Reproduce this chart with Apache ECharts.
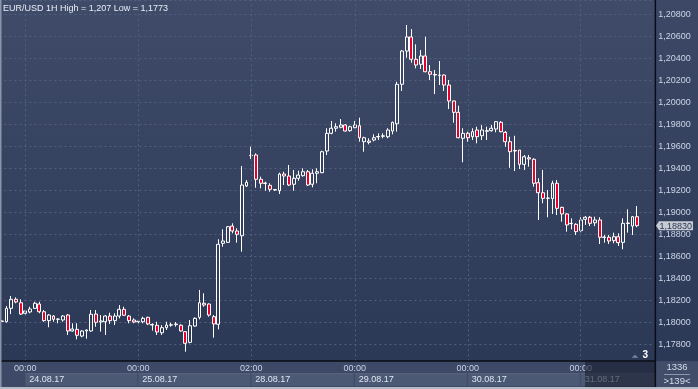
<!DOCTYPE html>
<html><head><meta charset="utf-8">
<script src="https://cdn.jsdelivr.net/npm/echarts@6/dist/echarts.min.js"></script>
<style>html,body{margin:0;padding:0;background:#323e5b;}#c{width:698px;height:389px;}</style>
</head><body><div id="c"></div>
<script>
// ---- data ----
const dayRanges = [['23.08.17',19,23],['24.08.17',0,23],['25.08.17',0,23],['28.08.17',2,23],['29.08.17',0,23],['30.08.17',0,23],['31.08.17',0,15]];
const categories = [];
dayRanges.forEach(([d,a,b]) => { for (let h=a; h<=b; h++) categories.push(d + ' ' + String(h).padStart(2,'0') + ':00'); });

const opens = [
1.18012,1.18005,1.18127,1.18209,1.18178,1.18082,1.18094,1.18127,1.18166,1.18096,
1.18015,1.18057,1.18027,1.18021,1.18066,1.17921,1.17936,1.17875,1.17921,1.17921,
1.18075,1.18003,1.18005,1.18057,1.18015,1.18057,1.18118,1.18057,1.18021,1.18005,
1.18005,1.18045,1.17975,1.17973,1.17905,1.17951,1.17974,1.17979,1.17973,1.17915,
1.17818,1.17966,1.18045,1.18173,1.18166,1.18051,1.17982,1.18718,1.18727,1.18875,
1.18830,1.18787,1.19239,1.19518,1.19521,1.19300,1.19266,1.19245,1.19207,1.19196,
1.19348,1.19330,1.19255,1.19309,1.19333,1.19369,1.19255,1.19355,1.19360,1.19557,
1.19718,1.19764,1.19773,1.19794,1.19742,1.19769,1.19787,1.19642,1.19636,1.19657,
1.19685,1.19691,1.19687,1.19739,1.19805,1.20164,1.20466,1.20594,1.20391,1.20345,
1.20421,1.20278,1.20253,1.20245,1.20248,1.20157,1.20012,1.19909,1.19673,1.19718,
1.19687,1.19748,1.19696,1.19736,1.19742,1.19757,1.19818,1.19727,1.19642,1.19562,
1.19566,1.19436,1.19496,1.19482,1.19269,1.19178,1.19130,1.19124,1.19264,1.19045,
1.18985,1.18900,1.18891,1.18833,1.18936,1.18955,1.18905,1.18930,1.18775,1.18773,
1.18742,1.18778,1.18727,1.18898,1.18875,1.18960];
const closes = [
1.18007,1.18127,1.18209,1.18185,1.18075,1.18103,1.18121,1.18173,1.18096,1.18015,
1.18066,1.18027,1.18030,1.18057,1.17921,1.17939,1.17882,1.17921,1.17930,1.18073,
1.18000,1.18012,1.18057,1.18015,1.18057,1.18118,1.18064,1.18015,1.18003,1.18010,
1.18036,1.17985,1.17980,1.17912,1.17951,1.17975,1.17977,1.17984,1.17921,1.17809,
1.17969,1.18036,1.18178,1.18157,1.18066,1.17985,1.18709,1.18739,1.18869,1.18830,
1.18800,1.19248,1.19273,1.19515,1.19300,1.19264,1.19262,1.19209,1.19203,1.19348,
1.19330,1.19248,1.19309,1.19339,1.19369,1.19248,1.19355,1.19369,1.19551,1.19718,
1.19764,1.19778,1.19794,1.19739,1.19778,1.19794,1.19678,1.19678,1.19648,1.19678,
1.19689,1.19696,1.19748,1.19818,1.20164,1.20466,1.20594,1.20391,1.20339,1.20421,
1.20278,1.20255,1.20248,1.20248,1.20157,1.20012,1.19909,1.19678,1.19718,1.19678,
1.19733,1.19687,1.19748,1.19742,1.19764,1.19824,1.19733,1.19642,1.19551,1.19557,
1.19436,1.19505,1.19485,1.19264,1.19178,1.19127,1.19127,1.19264,1.19036,1.18985,
1.18885,1.18897,1.18824,1.18930,1.18955,1.18900,1.18930,1.18773,1.18771,1.18739,
1.18778,1.18724,1.18900,1.18903,1.18960,1.18878];
const lows = [
1.18003,1.17998,1.18075,1.18173,1.18066,1.18066,1.18082,1.18121,1.18082,1.18005,
1.17955,1.18005,1.17991,1.18005,1.17885,1.17915,1.17845,1.17864,1.17851,1.17915,
1.17960,1.17915,1.17885,1.17985,1.17975,1.18036,1.18057,1.17991,1.17991,1.17991,
1.17991,1.17975,1.17924,1.17885,1.17885,1.17930,1.17960,1.17960,1.17915,1.17733,
1.17809,1.17960,1.18027,1.18142,1.18051,1.17860,1.17936,1.18687,1.18721,1.18809,
1.18724,1.18642,1.19230,1.19485,1.19224,1.19218,1.19196,1.19187,1.19194,1.19166,
1.19248,1.19239,1.19196,1.19287,1.19324,1.19239,1.19227,1.19264,1.19355,1.19521,
1.19709,1.19733,1.19764,1.19733,1.19733,1.19764,1.19642,1.19551,1.19618,1.19645,
1.19657,1.19673,1.19673,1.19709,1.19733,1.20103,1.20405,1.20360,1.20309,1.20303,
1.20273,1.20203,1.20075,1.20157,1.20103,1.19939,1.19815,1.19673,1.19455,1.19642,
1.19657,1.19627,1.19657,1.19657,1.19733,1.19727,1.19727,1.19596,1.19405,1.19375,
1.19394,1.19385,1.19415,1.19233,1.18930,1.19082,1.18955,1.18985,1.18975,1.18915,
1.18824,1.18845,1.18794,1.18818,1.18885,1.18875,1.18875,1.18712,1.18724,1.18712,
1.18718,1.18694,1.18664,1.18815,1.18794,1.18864];
const highs = [
1.18021,1.18148,1.18239,1.18227,1.18209,1.18112,1.18142,1.18187,1.18187,1.18112,
1.18075,1.18066,1.18036,1.18066,1.18075,1.17991,1.17991,1.17930,1.17935,1.18112,
1.18112,1.18066,1.18066,1.18087,1.18082,1.18157,1.18142,1.18066,1.18036,1.18016,
1.18051,1.18051,1.17991,1.18005,1.17975,1.18005,1.17996,1.18003,1.17982,1.17921,
1.18021,1.18045,1.18294,1.18264,1.18173,1.18066,1.18755,1.18845,1.18875,1.18900,
1.18855,1.19421,1.19294,1.19596,1.19536,1.19324,1.19278,1.19264,1.19212,1.19360,
1.19369,1.19430,1.19385,1.19378,1.19400,1.19385,1.19391,1.19400,1.19560,1.19764,
1.19830,1.19809,1.19848,1.19800,1.19787,1.19830,1.19860,1.19687,1.19673,1.19709,
1.19718,1.19718,1.19764,1.19824,1.20187,1.20475,1.20703,1.20666,1.20527,1.20475,
1.20596,1.20339,1.20294,1.20375,1.20253,1.20203,1.20016,1.19969,1.19764,1.19733,
1.19764,1.19778,1.19794,1.19778,1.19794,1.19830,1.19830,1.19739,1.19687,1.19696,
1.19566,1.19521,1.19521,1.19491,1.19309,1.19385,1.19203,1.19287,1.19294,1.19051,
1.18991,1.18945,1.18900,1.18955,1.18966,1.18966,1.18960,1.18955,1.18794,1.18794,
1.18815,1.18809,1.18945,1.19027,1.18966,1.19057];

const titleText = 'EUR/USD 1H High = 1,207 Low = 1,1773';
const currentPrice = 1.18830;
const barsText = '1336';
const visibleText = '>139<';
const markerCount = '3';
const yMin = 1.176, yMax = 1.2093, yStep = 0.002;

// first bar of each day (except the partial first day) gets a tick label
const labelIdx = [];
categories.forEach((c,i) => { if (i>0 && c.split(' ')[0] !== categories[i-1].split(' ')[0]) labelIdx.push(i); });

const FONT = '"Liberation Sans", Arial, sans-serif';
const GRID = '#53607c';
const candleData = opens.map((o,i) => [o, closes[i], lows[i], highs[i]]);

const chart = echarts.init(document.getElementById('c'), null, {renderer:'canvas', width:698, height:389});
const option = {
  animation: false,
  backgroundColor: 'transparent',
  grid: {left: -0.6, right: 44.3, top: 0, bottom: 22.7, containLabel: false, outerBoundsMode: 'none'},
  xAxis: [{
    type: 'category', data: categories, boundaryGap: true, z: 150,
    axisLine: {show:false}, axisTick: {show:false}, splitLine: {show:false},
    axisLabel: {interval: (i) => labelIdx.includes(i), formatter: v => v.split(' ')[1],
      margin: 2, verticalAlign: 'middle', color: '#c9d3e6', fontSize: 9, fontFamily: FONT, hideOverlap: false}
  }],
  yAxis: {
    type: 'value', position: 'right', min: yMin, max: yMax, interval: yStep, scale: true,
    axisLine: {show:false}, axisTick: {show:false},
    splitLine: {show: true, lineStyle: {color: GRID, type: [2,3], width: 1}},
    axisLabel: {margin: 4.5, color: '#cdd5e6', fontSize: 9, fontFamily: FONT,
      formatter: v => (v < 1.1775 || v > 1.2085) ? '' : v.toFixed(5).replace('.', ',')}
  },
  series: [
    {type: 'line', data: [], z: 1, silent: true,
      markLine: {silent: true, symbol: ['none','none'], label: {show:false}, animation: false,
        lineStyle: {color: GRID, type: [2,3], width: 1},
        data: labelIdx.map(i => ({xAxis: categories[i]}))}},
    {type: 'candlestick', data: candleData, barWidth: 3.4, z: 3,
      itemStyle: {color: 'rgba(0,0,0,0)', color0: '#e8002c', borderColor: '#ffffff', borderColor0: '#ffffff', borderWidth: 1}}
  ]
};
chart.setOption(option);

// ---- decorations positioned through the axes ----
const px = i => chart.convertToPixel({xAxisIndex: 0}, categories[i]);
const py = v => chart.convertToPixel({yAxisIndex: 0}, v);
const g = [];
g.push({type:'rect', z:-100, shape:{x:0,y:0,width:655,height:361},
  style:{fill: new echarts.graphic.LinearGradient(0,0,0,1,[{offset:0,color:'#3f4b69'},{offset:1,color:'#2b3856'}])}});
g.push({type:'rect', z:-100, shape:{x:655,y:0,width:43,height:361},
  style:{fill: new echarts.graphic.LinearGradient(0,0,0,1,[{offset:0,color:'#3c4866'},{offset:1,color:'#2b3856'}])}});
g.push({type:'rect', z:100, shape:{x:0,y:361,width:698,height:28}, style:{fill:'#3d4966'}});
// date boxes
labelIdx.forEach((idx, j) => {
  const x0 = px(idx);
  const x1 = j < labelIdx.length - 1 ? px(labelIdx[j+1]) - 1 : 655;
  g.push({type:'rect', z:101, shape:{x:x0, y:373.3, width:x1-x0, height:12.7}, style:{fill:'#4c5975'}});
  g.push({type:'rect', z:101, shape:{x:x0, y:373.3, width:x1-x0, height:1}, style:{fill:'#58667f'}});
  g.push({type:'text', z:102, x:x0+4, y:380, style:{text: categories[idx].split(' ')[0], fill:'#dfe6f2', font:'9px ' + FONT, verticalAlign:'middle', align:'left'}});
});
// dimmed area at the right of the time axis
g.push({type:'rect', z:160, shape:{x:585, y:361.5, width:70, height:25.5}, style:{fill:'rgba(24,31,48,0.62)'}});
// separators
g.push({type:'rect', z:170, shape:{x:0, y:360.3, width:656, height:1.5}, style:{fill:'#0a0d15'}});
g.push({type:'rect', z:170, shape:{x:654.6, y:0, width:1.5, height:389}, style:{fill:'#0a0d15'}});
// corner box
g.push({type:'rect', z:150, shape:{x:656.1, y:361.5, width:42, height:25.5}, style:{fill:'#414d69'}});
g.push({type:'text', z:171, x:677, y:367, style:{text: barsText, fill:'#d6deec', font:'9.5px ' + FONT, align:'center', verticalAlign:'middle'}});
g.push({type:'line', z:171, shape:{x1:664, y1:374.5, x2:690, y2:374.5}, style:{stroke:'#8b96ac', lineWidth:1}});
g.push({type:'text', z:171, x:677, y:381.5, style:{text: visibleText, fill:'#d6deec', font:'9.5px ' + FONT, align:'center', verticalAlign:'middle'}});
// outer border
g.push({type:'rect', z:180, shape:{x:0, y:0, width:1.5, height:389}, style:{fill:'#8a95aa'}});
g.push({type:'rect', z:180, shape:{x:0, y:387, width:698, height:2}, style:{fill:'#b3bbc7'}});
// title
g.push({type:'text', z:180, x:3, y:8.5, style:{text: titleText, fill:'#e8eef7', font:'9px ' + FONT, verticalAlign:'middle', align:'left'}});
// marker counter
g.push({type:'polygon', z:120, shape:{points:[[631.7,357.7],[635,354.8],[638.3,357.7]]}, style:{fill:'#7d879b'}});
g.push({type:'text', z:120, x:642.5, y:355.5, style:{text: markerCount, fill:'#ffffff', font:'bold 10px ' + FONT, verticalAlign:'middle', align:'left'}});
// current price tag at last close
const yLast = py(closes[closes.length - 1]);
g.push({type:'polygon', z:175, shape:{points:[[656,yLast],[659,yLast-4.5],[693,yLast-4.5],[693,yLast+4.5],[659,yLast+4.5]]}, style:{fill:'#c7cbd3'}});
g.push({type:'text', z:176, x:659.5, y:yLast+0.5, style:{text: currentPrice.toFixed(5).replace('.', ','), fill:'#2a3450', font:'9px ' + FONT, verticalAlign:'middle', align:'left'}});
chart.setOption({graphic: {elements: g}});
</script></body></html>
